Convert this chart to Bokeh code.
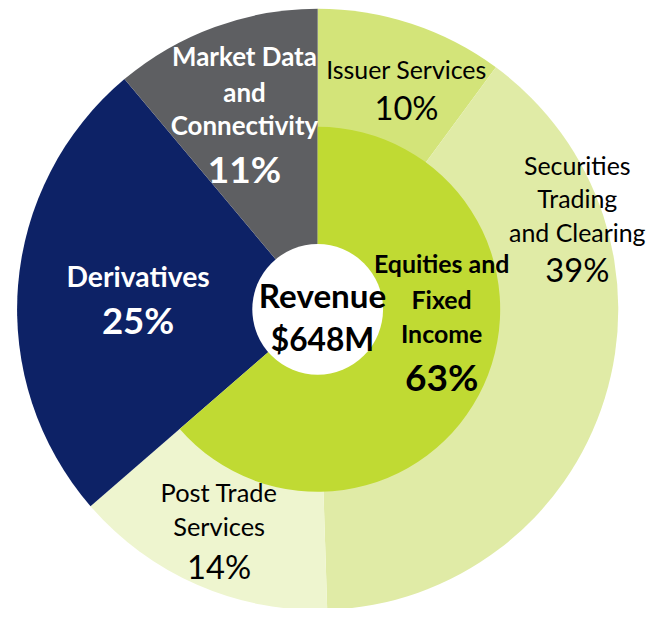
import numpy as np
from bokeh.plotting import figure
from bokeh.models import Range1d, ColumnDataSource
from bokeh.core.properties import value
from bokeh.embed import file_html
from bokeh.resources import INLINE

# ---- data ----
segments = ["Issuer Services", "Securities Trading and Clearing", "Post Trade Services",
            "Derivatives", "Market Data and Connectivity"]
shares = [10, 39, 14, 25, 11]
seg_colors = ["#d3e479", "#e0eba6", "#eef5cf", "#0d2266", "#5e5f62"]

group = ["Equities and Fixed Income"]
group_share = [63]
group_color = ["#c0da33"]

center_lines = ["Revenue", "$648M"]

# ---- geometry (reference pixel coordinates, y downward -> negated) ----
W, H = 649, 608
RW, RH = 665, 624
SC = W / RW
cx, cy = 325, 317
R_OUT, R_MID, R_HOLE = 308, 187, 67
FONT = "Lato"
BASE_SHIFT = 0.33  # fraction of font size

p = figure(width=W, height=H, output_backend="svg", toolbar_location=None,
           x_range=Range1d(0, RW), y_range=Range1d(-RH, 0),
           x_axis_type=None, y_axis_type=None, min_border=0)
p.grid.visible = False
p.outline_line_color = None

total = float(sum(shares))
cum = np.cumsum([0] + shares) / total * 2 * np.pi
src = ColumnDataSource(dict(
    name=segments,
    start=[np.pi / 2 - a for a in cum[:-1]],
    end=[np.pi / 2 - a for a in cum[1:]],
    color=seg_colors,
))
p.wedge(x=cx, y=-cy, radius=R_OUT, start_angle="start", end_angle="end",
        direction="clock", fill_color="color", line_color=None, source=src)

gcum = np.cumsum([0] + group_share) / total * 2 * np.pi
gsrc = ColumnDataSource(dict(
    name=group,
    start=[np.pi / 2 - a for a in gcum[:-1]],
    end=[np.pi / 2 - a for a in gcum[1:]],
    color=group_color,
))
p.wedge(x=cx, y=-cy, radius=R_MID, start_angle="start", end_angle="end",
        direction="clock", fill_color="color", line_color=None, source=gsrc)

p.circle(x=cx, y=-cy, radius=R_HOLE, fill_color="white", line_color=None)


def label(lines, x, baselines, sizes, styles, color):
    for t, b, s, st in zip(lines, baselines, sizes, styles):
        p.text(x=[x], y=[-(b - BASE_SHIFT * s)], text=[t], text_align="center",
               text_baseline="alphabetic",
               text_font=value(FONT), text_font_size=f"{s * SC:.1f}px", text_font_style=st,
               text_color=color)


pct = [f"{v}%" for v in shares]
gpct = [f"{v}%" for v in group_share]

# Issuer Services
label(["Issuer Services", pct[0]], 416, [79, 121], [25.5, 33.5], ["normal", "normal"], "black")
# Securities Trading and Clearing
label(["Securities", "Trading", "and Clearing", pct[1]], 591, [177, 211, 246, 287],
      [25.5, 25.5, 25.5, 33.5], ["normal"] * 4, "black")
# Post Trade Services
label(["Post Trade", "Services", pct[2]], 224, [513, 548, 592], [26, 26, 33.5],
      ["normal"] * 3, "black")
# Derivatives
label(["Derivatives", pct[3]], 141, [292, 340], [29, 37.5], ["bold", "bold"], "white")
# Market Data and Connectivity
label(["Market Data", "and", "Connectivity", pct[4]], 250, [66, 103, 137, 185],
      [26.5, 26.5, 26.5, 38], ["bold"] * 4, "white")
# Equities and Fixed Income
label(["Equities and", "Fixed", "Income", gpct[0]], 452, [278, 315, 350, 398],
      [25.5, 25.5, 25.5, 38], ["bold"] * 4, "black")
# Center
label(center_lines, 330, [313, 358], [34, 32.5], ["bold", "bold"], "black")

open("out.html", "w").write(file_html(p, INLINE))
